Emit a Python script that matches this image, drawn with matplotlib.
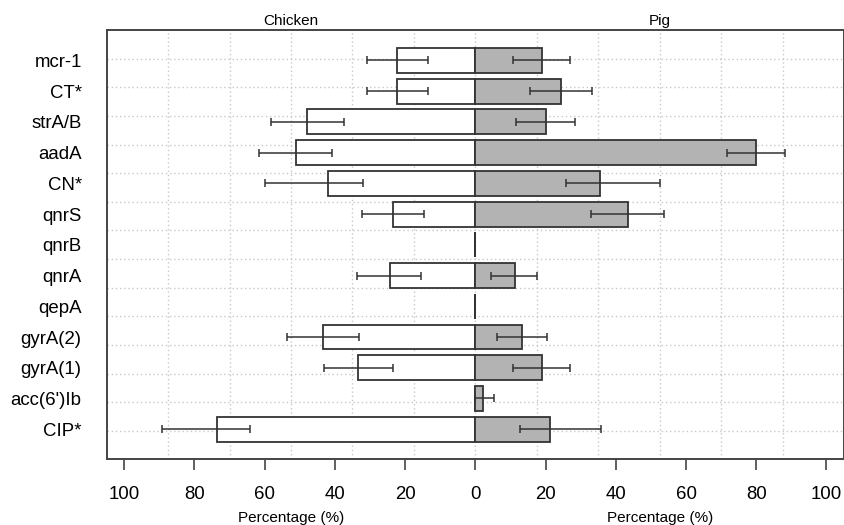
import matplotlib
matplotlib.use('Agg')
import matplotlib.pyplot as plt
import matplotlib.transforms as mtransforms
import numpy as np

plt.rcParams['font.family'] = ['Liberation Sans', 'DejaVu Sans']

# 基因名稱(由上而下)
genes = ['mcr-1', 'CT*', 'strA/B', 'aadA', 'CN*', 'qnrS', 'qnrB', 'qnrA',
         'qepA', 'gyrA(2)', 'gyrA(1)', "acc(6')Ib", 'CIP*']

# 雞 (左) 百分比及信賴區間
chicken = np.array([22.2, 22.2, 47.9, 51.1, 42.1, 23.4, 0, 24.4, 0, 43.4, 33.4, 0, 73.5])
chicken_lo = np.array([13.6, 13.6, 37.5, 40.8, 32.0, 14.7, 0, 15.5, 0, 33.0, 23.5, 0, 64.3])
chicken_hi = np.array([30.9, 30.9, 58.1, 61.6, 59.9, 32.2, 0, 33.6, 0, 53.6, 43.2, 0, 89.2])

# 豬 (右) 百分比及信賴區間
pig = np.array([18.9, 24.4, 20.0, 80.0, 35.6, 43.4, 0, 11.2, 0, 13.4, 18.9, 2.1, 21.2])
pig_lo = np.array([10.8, 15.5, 11.7, 71.8, 25.7, 33.0, 0, 4.5, 0, 6.3, 10.7, 0, 12.6])
pig_hi = np.array([27.0, 33.3, 28.3, 88.3, 52.7, 53.6, 0, 17.6, 0, 20.3, 27.1, 5.3, 35.8])

# X軸刻度
xticks = [-100, -80, -60, -40, -20, 0, 20, 40, 60, 80, 100]
xtick_labels = ['100', '80', '60', '40', '20', '0', '20', '40', '60', '80', '100']

dark = '#333333'
fig = plt.figure(figsize=(8.45, 5.25), dpi=100)
ax = fig.add_axes([0.1263, 0.1251, 0.8725, 0.8178])

y = np.arange(len(genes))

# 網格(虛線)
for gx in np.arange(-87.5, 88, 17.5):
    ax.axvline(gx, color='#c8c8c8', lw=1, linestyle=(0, (1, 2)), zorder=0)
for gy in np.linspace(-0.059, 12.06, 14):
    ax.axhline(gy, color='#c8c8c8', lw=1, linestyle=(0, (1, 2)), zorder=0)

# 長條圖
ax.barh(y, -chicken, height=0.81, color='white', edgecolor=dark, lw=1.3, zorder=2)
ax.barh(y, pig, height=0.81, color='#b3b3b3', edgecolor=dark, lw=1.3, zorder=2)

# 誤差線
m = chicken_hi > 0
ax.errorbar(-chicken[m], y[m], xerr=[chicken_hi[m] - chicken[m], chicken[m] - chicken_lo[m]],
            fmt='none', ecolor=dark, elinewidth=1.1, capsize=2.7, capthick=1.1, zorder=3)
m = pig_hi > 0
ax.errorbar(pig[m], y[m], xerr=[pig[m] - pig_lo[m], pig_hi[m] - pig[m]],
            fmt='none', ecolor=dark, elinewidth=1.1, capsize=2.7, capthick=1.1, zorder=3)

ax.set_xlim(-105, 105)
ax.set_ylim(12.98, -0.99)
ax.set_yticks(y)
ax.set_yticklabels(genes)
ax.set_xticks(xticks)
ax.set_xticklabels(xtick_labels)
ax.tick_params(axis='y', length=0, pad=18, labelsize=13.4)
ax.tick_params(axis='x', length=8, width=1.2, color='#444444', pad=11, labelsize=13.4)

for s in ax.spines.values():
    s.set_linewidth(1.4)
    s.set_color('#444444')

# 標題及軸標籤
trans = mtransforms.blended_transform_factory(ax.transData, ax.transAxes)
ax.text(-52.5, 1.022, 'Chicken', transform=trans, ha='center', va='center', fontsize=11)
ax.text(52.5, 1.022, 'Pig', transform=trans, ha='center', va='center', fontsize=11)
ax.text(-52.5, -0.136, 'Percentage (%)', transform=trans, ha='center', va='center', fontsize=11)
ax.text(52.5, -0.136, 'Percentage (%)', transform=trans, ha='center', va='center', fontsize=11)

plt.savefig('out.png', dpi=100)
